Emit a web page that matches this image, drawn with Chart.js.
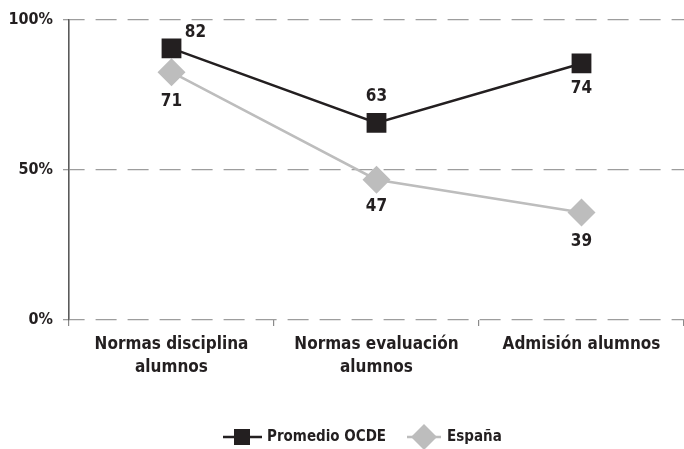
<!DOCTYPE html>
<html>
<head>
<meta charset="utf-8">
<script src="https://cdn.jsdelivr.net/npm/chart.js@4"></script>
<style>
  html, body { margin: 0; padding: 0; background: #fff; overflow: hidden; }
  #wrap { position: relative; width: 684px; height: 449px; }
  canvas { display: block; }
</style>
</head>
<body>
<div id="wrap"><canvas id="graph-line"></canvas></div>
<script>
const categories = [["Normas disciplina", "alumnos"], ["Normas evaluación", "alumnos"], "Admisión alumnos"];
const seriesNames = ["Promedio OCDE", "España"];
// marker positions as drawn in the picture (% scale)
const ocdeValues = [90.4, 65.6, 85.4];
const espanaValues = [82.5, 46.7, 35.8];
// printed value labels
const ocdeLabels = ["82", "63", "74"];
const espanaLabels = ["71", "47", "39"];
const yTicks = [0, 50, 100];

const FONT = "'Liberation Sans Narrow', 'DejaVu Sans Condensed', 'Arial Narrow', sans-serif";
const DARK = "#231f20";
const GREY = "#bdbdbd";

// where each value label sits relative to its marker
const ocdePlace = [[24, -16], [0, -26], [0, 25]];
const espanaPlace = [[0, 29], [0, 27], [0, 29]];

const valueLabels = {
    id: "valueLabels",
    afterDatasetsDraw(chart) {
        const ctx = chart.ctx;
        const sets = [[ocdeLabels, ocdePlace], [espanaLabels, espanaPlace]];
        ctx.save();
        ctx.font = "bold 17px " + FONT;
        ctx.fillStyle = DARK;
        ctx.textAlign = "center";
        ctx.textBaseline = "middle";
        sets.forEach(([texts, place], di) => {
            chart.getDatasetMeta(di).data.forEach((pt, i) => {
                ctx.fillText(texts[i], pt.x + place[i][0], pt.y + place[i][1]);
            });
        });
        ctx.restore();
    }
};

const bottomLegend = {
    id: "bottomLegend",
    afterDraw(chart) {
        const ctx = chart.ctx;
        const y = 437;
        ctx.save();
        ctx.font = "bold 15px " + FONT;
        ctx.textBaseline = "middle";
        ctx.textAlign = "left";
        // item 1
        ctx.strokeStyle = DARK;
        ctx.lineWidth = 2.5;
        ctx.beginPath(); ctx.moveTo(223, y); ctx.lineTo(262, y); ctx.stroke();
        ctx.fillStyle = DARK;
        ctx.fillRect(234, y - 8, 16, 16);
        ctx.fillText(chart.data.datasets[0].label, 267, y);
        // item 2
        ctx.strokeStyle = GREY;
        ctx.beginPath(); ctx.moveTo(407, y); ctx.lineTo(441, y); ctx.stroke();
        ctx.fillStyle = GREY;
        ctx.beginPath();
        ctx.moveTo(424, y - 13); ctx.lineTo(437, y); ctx.lineTo(424, y + 13); ctx.lineTo(411, y);
        ctx.closePath(); ctx.fill();
        ctx.fillStyle = DARK;
        ctx.fillText(chart.data.datasets[1].label, 447, y);
        ctx.restore();
    }
};

Chart.defaults.font.family = FONT;
Chart.defaults.color = DARK;

new Chart(document.getElementById("graph-line").getContext("2d"), {
    type: "line",
    data: {
        labels: categories,
        datasets: [{
            label: seriesNames[0],
            data: ocdeValues,
            borderColor: DARK,
            backgroundColor: DARK,
            borderWidth: 2.5,
            pointStyle: "rect",
            pointRadius: 14,
            pointHoverRadius: 14,
            pointBorderWidth: 0,
            fill: false
        }, {
            label: seriesNames[1],
            data: espanaValues,
            borderColor: GREY,
            backgroundColor: GREY,
            borderWidth: 2.5,
            pointStyle: "rectRot",
            pointRadius: 14,
            pointHoverRadius: 14,
            pointBorderWidth: 0,
            fill: false,
            order: 1
        }]
    },
    options: {
        responsive: true,
        maintainAspectRatio: false,
        animation: false,
        layout: { autoPadding: false, padding: { top: 18, right: 0, bottom: 0, left: 0 } },
        plugins: {
            legend: { display: false },
            tooltip: { enabled: false }
        },
        scales: {
            x: {
                offset: true,
                grid: {
                    offset: true,
                    drawOnChartArea: false,
                    drawTicks: true,
                    tickLength: 6,
                    color: "#8a8a8a",
                    lineWidth: 1.2
                },
                border: { display: false },
                ticks: {
                    padding: 8,
                    font: { size: 17, weight: "bold", lineHeight: 1.3 },
                    color: DARK,
                    maxRotation: 0
                },
                afterFit(scale) {
                    scale.height = 129;
                    scale.paddingLeft = 0;
                    scale.paddingRight = 0;
                }
            },
            y: {
                min: 0,
                max: 100,
                afterBuildTicks(scale) { scale.ticks = yTicks.map(v => ({ value: v })); },
                grid: {
                    color: "#9d9d9d",
                    lineWidth: 1.3,
                    tickLength: 6,
                    tickColor: "#9d9d9d",
                    tickBorderDash: []
                },
                border: { display: true, color: "#5a5a5a", width: 1.6, dash: [21, 11], dashOffset: 6 },
                ticks: {
                    padding: 10,
                    font: { size: 16, weight: "bold" },
                    color: DARK,
                    callback: v => v + "%"
                },
                afterFit(scale) { scale.width = 69; }
            }
        }
    },
    plugins: [valueLabels, bottomLegend]
});
</script>
</body>
</html>
